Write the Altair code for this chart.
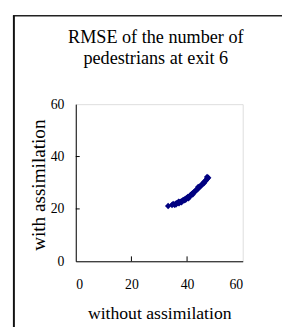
import altair as alt
import pandas as pd

# Data
x_without = [33.2, 34.6, 35.0, 35.5, 35.9, 36.0, 36.3, 36.8, 37.0, 37.1, 37.5, 37.9, 38.0,
             38.3, 38.6, 39.0, 39.3, 39.5, 39.7, 40.0, 40.3, 40.5, 40.6, 41.0, 41.3, 41.6,
             41.9, 42.0, 42.2, 42.5, 42.8, 43.1, 43.4, 43.7, 44.0, 44.0, 44.3, 44.6, 44.9,
             45.2, 45.5, 45.8, 46.0, 46.1, 46.4, 46.7, 47.0, 47.2, 47.3, 47.6]
y_with = [21.1, 21.5, 21.9, 21.6, 22.0, 21.7, 22.2, 22.4, 22.8, 22.1, 22.7, 22.9, 22.5,
          23.0, 23.4, 23.3, 23.8, 23.5, 24.0, 24.2, 24.6, 24.0, 24.5, 25.0, 25.3, 25.5,
          25.9, 25.5, 26.0, 26.4, 26.7, 26.9, 27.3, 27.5, 27.9, 28.4, 28.2, 28.5, 28.8,
          29.1, 29.5, 29.8, 29.8, 30.2, 30.5, 30.8, 31.2, 32.2, 31.6, 31.9]

axis_ticks = [0, 20, 40, 60]
inner_ticks = [20, 40]
title_lines = ["RMSE of the number of", "pedestrians at exit 6"]
x_title = "without assimilation"
y_title = "with assimilation"

pts = pd.DataFrame({"x": x_without, "y": y_with})
tick_df = pd.DataFrame({"t": inner_ticks})
one = pd.DataFrame({"t": [0]})

FONT = "Liberation Serif"
W, H = 170, 160

xscale = alt.Scale(domain=[0, 60], nice=False)
yscale = alt.Scale(domain=[0, 60], nice=False)

points = alt.Chart(pts).mark_point(
    shape="diamond", filled=True, color="#000080", size=42, opacity=1
).encode(
    x=alt.X("x:Q", scale=xscale, title=x_title,
            axis=alt.Axis(values=axis_ticks, grid=False, tickSize=0, labelPadding=17,
                          domainColor="#000000", labelColor="#000000", labelFont=FONT,
                          labelFontSize=14, titleFont=FONT, titleFontSize=18,
                          titleFontWeight="normal", titleColor="#000000",
                          titleY=58, titleBaseline="alphabetic")),
    y=alt.Y("y:Q", scale=yscale, title=y_title,
            axis=alt.Axis(values=axis_ticks, grid=False, tickSize=0, labelPadding=12,
                          domainColor="#000000", labelColor="#000000", labelFont=FONT,
                          labelFontSize=14, titleFont=FONT, titleFontSize=19.5,
                          titleFontWeight="normal", titleColor="#000000",
                          titleX=-32, titleY=82, titleBaseline="alphabetic")),
)

xt = alt.Chart(tick_df).mark_rule(color="#000000", strokeWidth=1).encode(
    x=alt.X("t:Q", scale=xscale), y=alt.value(H), y2=alt.value(H - 5)
)
yt = alt.Chart(tick_df).mark_rule(color="#000000", strokeWidth=1).encode(
    y=alt.Y("t:Q", scale=yscale), x=alt.value(0), x2=alt.value(4)
)

# title lines
title_layers = []
for i, line in enumerate(title_lines):
    title_layers.append(
        alt.Chart(one).mark_text(text=line, font=FONT, fontSize=18.5, color="#000000",
                                 align="center", baseline="alphabetic", clip=False).encode(
            x=alt.value(81.5), y=alt.value(-62 + 21 * i)
        )
    )

# outer frame lines (decoration of the original figure)
frame_top = alt.Chart(one).mark_rule(color="#222222", strokeWidth=1.5, clip=False).encode(
    x=alt.value(-64), x2=alt.value(215), y=alt.value(-90)
)
frame_left = alt.Chart(one).mark_rule(color="#111111", strokeWidth=2, clip=False).encode(
    x=alt.value(-63), y=alt.value(-90), y2=alt.value(240)
)

chart = alt.layer(frame_top, frame_left, points, xt, yt, *title_layers).properties(
    width=W, height=H,
    autosize=alt.AutoSizeParams(type="none"),
    padding={"left": 69, "top": 95, "right": 40, "bottom": 64},
).configure_view(stroke="#808080", strokeWidth=1).configure(background="#ffffff")

chart.save("out.html", embed_options={"renderer": "svg", "actions": False})
